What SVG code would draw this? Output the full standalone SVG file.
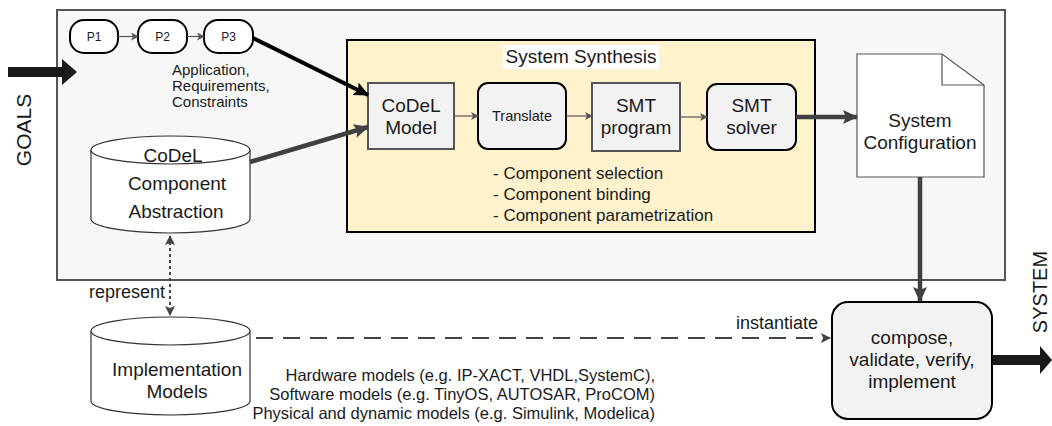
<svg xmlns="http://www.w3.org/2000/svg" width="1052" height="426" viewBox="0 0 1052 426">
<defs>
<style>
text{font-family:"Liberation Sans",Arial,sans-serif;fill:#1a1a1a}
.t16{font-size:19px;text-anchor:middle}
.t15{font-size:17px}
.thin{stroke:#555;stroke-width:1.2;fill:none}
.thick{stroke:#404040;stroke-width:4.5;fill:none}
.pill{fill:#fff;stroke:#000;stroke-width:2}
.cyl{fill:#fff;stroke:#333;stroke-width:1.2}
</style>
<marker id="ms" markerWidth="8" markerHeight="8" refX="7" refY="4" orient="auto" markerUnits="userSpaceOnUse"><path d="M0,0 L8,4 L0,8 L2,4 Z" fill="#555"/></marker>
<marker id="mg" markerWidth="16" markerHeight="16" refX="14" refY="8" orient="auto" markerUnits="userSpaceOnUse"><path d="M0,1 L15,8 L0,15 L3,8 Z" fill="#404040"/></marker>
<marker id="mb" markerWidth="16" markerHeight="16" refX="14" refY="8" orient="auto" markerUnits="userSpaceOnUse"><path d="M0,1 L15,8 L0,15 L3,8 Z" fill="#000"/></marker>
<marker id="md" markerWidth="10" markerHeight="10" refX="9" refY="5" orient="auto" markerUnits="userSpaceOnUse"><path d="M0,0 L10,5 L0,10 L2,5 Z" fill="#444"/></marker>
<marker id="mds" markerWidth="10" markerHeight="10" refX="1" refY="5" orient="auto" markerUnits="userSpaceOnUse"><path d="M10,0 L0,5 L10,10 L8,5 Z" fill="#444"/></marker>
</defs>
<rect width="1052" height="426" fill="#fff"/>

<g id="container">
<rect x="57" y="10" width="948" height="270" fill="#f7f7f7" stroke="#555" stroke-width="2"/>
</g>

<g id="goals">
<path d="M8,67 L62,67 L62,59 L77,72 L62,85 L62,77 L8,77 Z" fill="#1a1a1a"/>
<text transform="translate(31,130) rotate(-90)" style="font-size:21px;text-anchor:middle">GOALS</text>
</g>

<g id="system-arrow">
<path d="M992,355 L1040,355 L1040,346 L1052,360 L1040,374 L1040,365 L992,365 Z" fill="#1a1a1a"/>
<text transform="translate(1047,292) rotate(-90)" style="font-size:20px;text-anchor:middle">SYSTEM</text>
</g>

<g id="synthesis">
<rect x="347" y="40" width="468" height="192" fill="#fff2cc" stroke="#000" stroke-width="2"/>
<rect x="503" y="45" width="156" height="24" fill="#fff"/>
<text x="581" y="63" class="t16">System Synthesis</text>
<text x="493" y="179" class="t15">- Component selection</text>
<text x="493" y="200" class="t15">- Component binding</text>
<text x="493" y="221" class="t15">- Component parametrization</text>
</g>

<g id="p1"><rect x="70" y="20" width="48" height="33" rx="14" class="pill"/><text x="94" y="41" style="font-size:12px;text-anchor:middle">P1</text></g>
<g id="p2"><rect x="138" y="20" width="49" height="33" rx="14" class="pill"/><text x="162.5" y="41" style="font-size:12px;text-anchor:middle">P2</text></g>
<g id="p3"><rect x="204" y="20" width="49" height="33" rx="14" class="pill"/><text x="228.5" y="41" style="font-size:12px;text-anchor:middle">P3</text></g>
<g id="p-label">
<text x="172" y="75" style="font-size:15px">Application,</text>
<text x="172" y="91" style="font-size:15px">Requirements,</text>
<text x="172" y="107" style="font-size:15px">Constraints</text>
</g>

<g id="codel-model"><rect x="368" y="83" width="86" height="66" fill="#f2f2f2" stroke="#555" stroke-width="2"/>
<text x="411" y="112" class="t16">CoDeL</text><text x="411" y="134" class="t16">Model</text></g>
<g id="translate"><rect x="478" y="83" width="88" height="66" rx="10" fill="#f2f2f2" stroke="#000" stroke-width="2"/>
<text x="522" y="121" style="font-size:14.5px;text-anchor:middle">Translate</text></g>
<g id="smt-program"><rect x="592" y="83" width="88" height="68" fill="#f2f2f2" stroke="#555" stroke-width="2"/>
<text x="636" y="112" class="t16">SMT</text><text x="636" y="134" class="t16">program</text></g>
<g id="smt-solver"><rect x="707" y="84" width="89" height="66" rx="10" fill="#f2f2f2" stroke="#000" stroke-width="2"/>
<text x="751.5" y="112" class="t16">SMT</text><text x="751.5" y="134" class="t16">solver</text></g>

<g id="system-configuration">
<path d="M857,54 L942,54 L984,85 L984,177 L857,177 Z" fill="#fff" stroke="#555" stroke-width="1.2"/>
<path d="M942,54 L942,85 L984,85" fill="none" stroke="#555" stroke-width="1.2"/>
<text x="920" y="127" class="t16">System</text><text x="920" y="149" class="t16">Configuration</text>
</g>

<g id="compose"><rect x="832" y="302" width="160" height="117" rx="16" fill="#f2f2f2" stroke="#000" stroke-width="2"/>
<text x="912" y="344" class="t16">compose,</text><text x="912" y="366" class="t16">validate, verify,</text><text x="912" y="388" class="t16">implement</text></g>

<g id="codel-abstraction">
<path d="M91,150 L91,219 A79.5,14 0 0 0 250,219 L250,150" class="cyl"/>
<ellipse cx="170.5" cy="150" rx="79.5" ry="14" class="cyl"/>
<text x="173" y="162" class="t16">CoDeL</text>
<text x="177" y="190" class="t16">Component</text>
<text x="176" y="218" class="t16">Abstraction</text>
</g>

<g id="implementation-models">
<path d="M91,331 L91,401 A79.5,14 0 0 0 250,401 L250,331" class="cyl"/>
<ellipse cx="170.5" cy="331" rx="79.5" ry="14" class="cyl"/>
<text x="177" y="376" class="t16">Implementation</text>
<text x="177" y="398" class="t16">Models</text>
</g>

<g id="models-note">
<text x="655" y="381" style="font-size:16.5px;text-anchor:end">Hardware models (e.g. IP-XACT, VHDL,SystemC),</text>
<text x="655" y="400" style="font-size:16.5px;text-anchor:end">Software models (e.g. TinyOS, AUTOSAR, ProCOM)</text>
<text x="655" y="419" style="font-size:16.5px;text-anchor:end">Physical and dynamic models (e.g. Simulink, Modelica)</text>
</g>

<g id="connectors">
<line x1="118" y1="36.5" x2="138" y2="36.5" class="thin" marker-end="url(#ms)"/>
<line x1="187" y1="36.5" x2="204" y2="36.5" class="thin" marker-end="url(#ms)"/>
<line x1="253" y1="38" x2="368" y2="95" stroke="#000" stroke-width="4" marker-end="url(#mb)"/>
<line x1="250" y1="162" x2="368" y2="127" class="thick" marker-end="url(#mg)"/>
<line x1="454" y1="116" x2="478" y2="116" class="thin" marker-end="url(#ms)"/>
<line x1="566" y1="116" x2="592" y2="116" class="thin" marker-end="url(#ms)"/>
<line x1="680" y1="117" x2="707" y2="117" class="thin" marker-end="url(#ms)"/>
<line x1="796" y1="117" x2="857" y2="117" class="thick" marker-end="url(#mg)"/>
<line x1="920" y1="177" x2="920" y2="301" class="thick" marker-end="url(#mg)"/>
<line x1="170" y1="236" x2="170" y2="315" stroke="#444" stroke-width="2" stroke-dasharray="3,3" marker-start="url(#mds)" marker-end="url(#md)"/>
<text x="165" y="298" class="t15" style="font-size:18px;text-anchor:end">represent</text>
<line x1="256" y1="338" x2="830" y2="338" stroke="#444" stroke-width="2" stroke-dasharray="17,10" marker-end="url(#md)"/>
<text x="818" y="329" class="t15" style="font-size:18px;text-anchor:end">instantiate</text>
</g>
</svg>
